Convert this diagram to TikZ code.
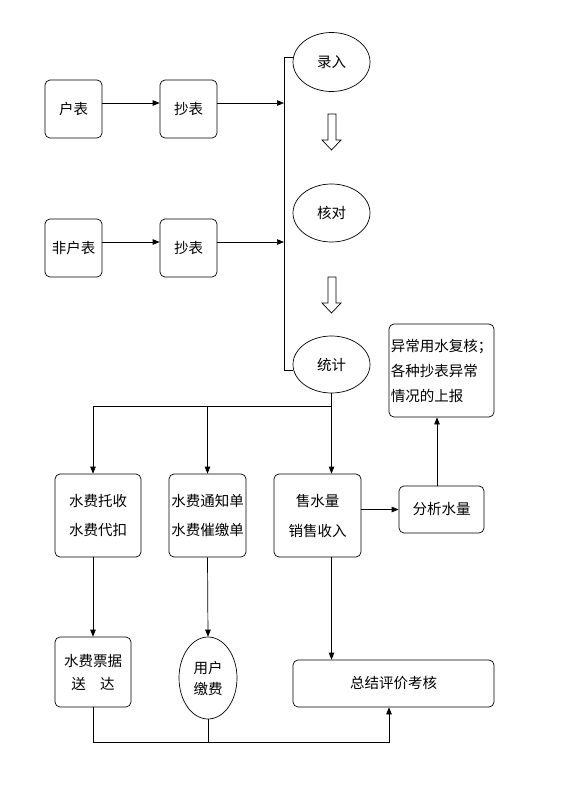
\documentclass[tikz,border=0pt]{standalone}
\usepackage{fontspec}
\newfontfamily\cjk{Noto Sans CJK SC}
\usetikzlibrary{arrows.meta,shapes.geometric}
\tikzset{box/.style={draw, rounded corners=5pt, align=center, inner sep=0pt},
oval/.style={draw, ellipse, align=center, inner sep=0pt}}
\begin{document}
\begin{tikzpicture}[x=1pt,y=-1pt, line width=0.7pt, font=\cjk\fontsize{14.5}{25}\selectfont,
>={Triangle[length=7pt,width=5.5pt]}]
\useasboundingbox (0,0) rectangle (588,792);
\node[box, minimum width=57pt, minimum height=58pt] (hu) at (73.5,109) {户表};
\node[box, minimum width=57pt, minimum height=58pt] (chao1) at (188.5,109) {抄表};
\node[box, minimum width=57pt, minimum height=58pt] (feihu) at (73.5,248) {非户表};
\node[box, minimum width=57pt, minimum height=58pt] (chao2) at (188.5,248) {抄表};
\node[oval, minimum width=77pt, minimum height=59pt] (luru) at (331.5,62) {录入};
\node[oval, minimum width=77pt, minimum height=58pt] (hedui) at (331.5,213) {核对};
\node[oval, minimum width=77pt, minimum height=57pt] (tongji) at (331.5,364.5) {统计};
\node[box, minimum width=86pt, minimum height=83pt] (tuoshou) at (98,515.5) {水费托收\\[4pt]水费代扣};
\node[box, minimum width=77pt, minimum height=83pt] (tongzhi) at (207.5,515.5) {水费通知单\\[4pt]水费催缴单};
\node[box, minimum width=87pt, minimum height=83pt] (shoushui) at (317.5,515.5) {售水量\\[5pt]销售收入};
\node[box, minimum width=85pt, minimum height=47pt] (fenxi) at (441.5,509.5) {分析水量};
\node[box, minimum width=105pt, minimum height=93pt, align=left] (yichang) at (441.5,370.5) {异常用水复核；\\各种抄表异常\\情况的上报};
\node[box, minimum width=76pt, minimum height=70pt] (piaoju) at (93,672) {水费票据\\[-2pt]送\hspace{1em}达};
\node[oval, minimum width=58pt, minimum height=82pt] (jiaofei) at (208,678) {用户\\[-4pt]缴费};
\node[box, minimum width=201pt, minimum height=47pt] (zongjie) at (393.5,683.5) {总结评价考核};
\coordinate (bus1) at (284,103);
\coordinate (bus2) at (284,242);
\coordinate (bustop) at (284,57);
\coordinate (busbot) at (284,370);
\coordinate (split) at (331.5,406);
\coordinate (merge) at (389,742);
\draw[->] (hu.east |- bus1) -- (chao1.west |- bus1);
\draw[->] (chao1.east |- bus1) -- (bus1);
\draw[->] (feihu.east |- bus2) -- (chao2.west |- bus2);
\draw[->] (chao2.east |- bus2) -- (bus2);
\draw (luru.west |- bustop) -- (bustop) -- (busbot) -- (tongji.west |- busbot);
\foreach \t in {114,277}
\draw (328,\t) -- (336,\t) -- (336,\t+26) -- (341,\t+26) -- (331.5,\t+36) -- (322,\t+26) -- (328,\t+26) -- cycle;
\draw[->] (tongji.south) -- (tongji.south |- shoushui.north);
\draw[->] (split) -| (tongzhi.north);
\draw[->] (split) -| (piaoju.north |- tuoshou.north);
\draw[->] (piaoju.north |- tuoshou.south) -- (piaoju.north);
\draw[->] (tongzhi.south) -- (jiaofei.north);
\draw[->] (tongji.south |- shoushui.south) -- (tongji.south |- zongjie.north);
\draw[->] (shoushui.east |- fenxi) -- (fenxi.west);
\draw[->] ([xshift=-4.5pt]fenxi.north) -- ([xshift=-4.5pt]yichang.south);
\draw[->] (piaoju.south) |- (merge) -- (merge |- zongjie.south);
\draw (jiaofei.south) -- (jiaofei.south |- merge);
\end{tikzpicture}
\end{document}
